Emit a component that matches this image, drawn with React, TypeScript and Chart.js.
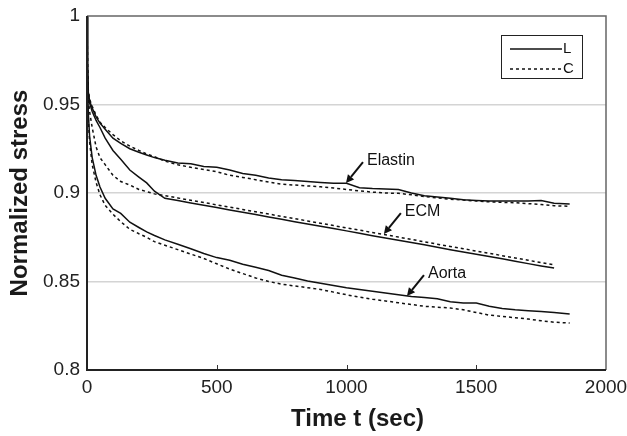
import React, { useEffect, useRef } from "react";
import { Chart, registerables } from "chart.js";

Chart.register(...registerables);

// ---- data ----
const times = [0, 2, 5, 10, 20, 35, 50, 70, 100, 130, 165, 200, 230, 260, 300, 350, 400, 450, 500, 550, 600, 650, 700, 750, 800, 850, 900, 950, 1000, 1050, 1100, 1150, 1200, 1250, 1300, 1350, 1400, 1450, 1500, 1550, 1600, 1650, 1700, 1750, 1800, 1860];

const elastinL = [1.0, 0.972, 0.957, 0.952, 0.948, 0.943, 0.9395, 0.936, 0.931, 0.928, 0.925, 0.923, 0.9215, 0.92, 0.9185, 0.917, 0.9165, 0.915, 0.9145, 0.913, 0.911, 0.91, 0.9085, 0.9075, 0.907, 0.9065, 0.906, 0.9055, 0.9055, 0.903, 0.9025, 0.9023, 0.902, 0.9, 0.8985, 0.8978, 0.897, 0.8962, 0.8958, 0.8955, 0.8955, 0.8955, 0.8955, 0.8958, 0.8942, 0.8938];
const elastinC = [1.0, 0.972, 0.958, 0.953, 0.949, 0.944, 0.94, 0.937, 0.933, 0.9295, 0.9265, 0.924, 0.922, 0.9205, 0.918, 0.916, 0.9145, 0.9133, 0.912, 0.91, 0.9088, 0.9075, 0.9062, 0.905, 0.9045, 0.904, 0.9035, 0.9028, 0.902, 0.9012, 0.9005, 0.9, 0.8998, 0.899, 0.898, 0.8972, 0.8965, 0.896, 0.8955, 0.895, 0.8947, 0.8945, 0.894, 0.8935, 0.8928, 0.8925];
const ecmL = [1.0, 0.972, 0.956, 0.951, 0.946, 0.941, 0.937, 0.931, 0.924, 0.919, 0.913, 0.909, 0.9057, 0.901, 0.897, 0.8957, 0.8944, 0.8931, 0.8918, 0.8904, 0.8891, 0.8878, 0.8865, 0.8852, 0.8838, 0.8825, 0.8812, 0.8799, 0.8786, 0.8773, 0.8759, 0.8746, 0.8733, 0.872, 0.8707, 0.8694, 0.868, 0.8667, 0.8654, 0.8641, 0.8628, 0.8615, 0.8601, 0.8588, 0.8576, null];
const ecmC = [1.0, 0.97, 0.953, 0.946, 0.937, 0.926, 0.92, 0.916, 0.91, 0.9065, 0.9045, 0.902, 0.9008, 0.8995, 0.8985, 0.8972, 0.8959, 0.8946, 0.8933, 0.892, 0.8907, 0.8894, 0.8881, 0.8868, 0.8855, 0.8842, 0.8829, 0.8816, 0.8803, 0.879, 0.8777, 0.8764, 0.8751, 0.8738, 0.8724, 0.8711, 0.8698, 0.8685, 0.8672, 0.8659, 0.8646, 0.8633, 0.862, 0.8607, 0.8594, null];
const aortaL = [1.0, 0.965, 0.945, 0.932, 0.92, 0.91, 0.9034, 0.897, 0.891, 0.8885, 0.8835, 0.8805, 0.878, 0.876, 0.8735, 0.871, 0.8685, 0.8658, 0.8635, 0.862, 0.8598, 0.858, 0.8562, 0.8535, 0.852, 0.8503, 0.849, 0.8478, 0.8465, 0.8455, 0.8445, 0.8435, 0.8425, 0.8415, 0.841, 0.8402, 0.8385, 0.8378, 0.8378, 0.836, 0.8348, 0.834, 0.8335, 0.833, 0.8325, 0.8316];
const aortaC = [1.0, 0.962, 0.942, 0.929, 0.916, 0.906, 0.899, 0.893, 0.888, 0.8838, 0.8795, 0.877, 0.875, 0.8725, 0.8705, 0.868, 0.8655, 0.863, 0.86, 0.857, 0.8545, 0.852, 0.85, 0.8485, 0.8475, 0.8465, 0.8455, 0.844, 0.8425, 0.8412, 0.84, 0.839, 0.838, 0.837, 0.836, 0.8355, 0.835, 0.834, 0.8325, 0.831, 0.8303, 0.8295, 0.8288, 0.8278, 0.827, 0.8265];

const xTicks = [0, 500, 1000, 1500, 2000];
const yTicks = [0.8, 0.85, 0.9, 0.95, 1];

const legendLabels = ["L", "C"];
const annotationLabels = ["Elastin", "ECM", "Aorta"];
const annotationT = [998, 1144, 1233];
const annotationV = [0.9056, 0.8768, 0.8418];

const FONT = "'Liberation Sans', Arial, Helvetica, sans-serif";

function pts(arr: (number | null)[]) {
  return times.map((t, i) => ({ x: t, y: arr[i] }));
}

const framePlugin = {
  id: "frame",
  afterDraw(chart: any) {
    const { ctx, chartArea } = chart;
    const { left, right, top, bottom } = chartArea;
    const xs = chart.scales.x;
    ctx.save();
    // inner x ticks
    ctx.strokeStyle = "#333";
    ctx.lineWidth = 1;
    xTicks.slice(1, -1).forEach((v) => {
      const px = Math.round(xs.getPixelForValue(v)) + 0.5;
      ctx.beginPath();
      ctx.moveTo(px, bottom);
      ctx.lineTo(px, bottom - 5);
      ctx.stroke();
    });
    // frame
    ctx.strokeStyle = "#666";
    ctx.lineWidth = 1.5;
    ctx.beginPath();
    ctx.moveTo(left, top);
    ctx.lineTo(right, top);
    ctx.lineTo(right, bottom);
    ctx.stroke();
    ctx.strokeStyle = "#222";
    ctx.lineWidth = 2;
    ctx.beginPath();
    ctx.moveTo(left, top);
    ctx.lineTo(left, bottom);
    ctx.lineTo(right, bottom);
    ctx.stroke();

    // x title
    ctx.fillStyle = "#1a1a1a";
    ctx.font = `bold 24px ${FONT}`;
    ctx.textAlign = "center";
    ctx.textBaseline = "alphabetic";
    ctx.fillText("Time t (sec)", (left + right) / 2 + 11, 426);

    // legend
    const lx = right - 105;
    const ly = top + 19;
    ctx.strokeStyle = "#222";
    ctx.lineWidth = 1;
    ctx.strokeRect(lx + 0.5, ly + 0.5, 81, 43);
    ctx.font = `15px ${FONT}`;
    ctx.textAlign = "left";
    ctx.textBaseline = "middle";
    legendLabels.forEach((lab, i) => {
      const y = ly + 14 + i * 20;
      ctx.strokeStyle = "#111";
      ctx.lineWidth = 1.5;
      ctx.setLineDash(i === 0 ? [] : [3, 3]);
      ctx.beginPath();
      ctx.moveTo(lx + 9, y);
      ctx.lineTo(lx + 61, y);
      ctx.stroke();
      ctx.setLineDash([]);
      ctx.fillStyle = "#111";
      ctx.fillText(lab, lx + 62, y);
    });

    // annotations
    const ys = chart.scales.y;
    annotationLabels.forEach((lab, i) => {
      const tx = xs.getPixelForValue(annotationT[i]);
      const ty = ys.getPixelForValue(annotationV[i]);
      const sx = tx + 17;
      const sy = ty - 21;
      const ang = Math.atan2(ty - sy, tx - sx);
      const hl = 8;
      const hw = 4;
      const bx = tx - hl * Math.cos(ang);
      const by = ty - hl * Math.sin(ang);
      ctx.strokeStyle = "#111";
      ctx.lineWidth = 2;
      ctx.beginPath();
      ctx.moveTo(sx, sy);
      ctx.lineTo(bx, by);
      ctx.stroke();
      ctx.fillStyle = "#111";
      ctx.beginPath();
      ctx.moveTo(tx, ty);
      ctx.lineTo(bx + hw * Math.sin(ang), by - hw * Math.cos(ang));
      ctx.lineTo(bx - hw * Math.sin(ang), by + hw * Math.cos(ang));
      ctx.closePath();
      ctx.fill();
      ctx.font = `16px ${FONT}`;
      ctx.textAlign = "left";
      ctx.textBaseline = "middle";
      ctx.fillText(lab, sx + 4, sy - 1);
    });
    ctx.restore();
  },
};

export default function App() {
  const ref = useRef<HTMLCanvasElement | null>(null);
  useEffect(() => {
    if (!ref.current) return;
    const solid = { borderColor: "#111", borderWidth: 1.5, pointRadius: 0, fill: false, tension: 0, spanGaps: false };
    const dashed = { ...solid, borderDash: [3, 3] };
    const chart = new Chart(ref.current, {
      type: "line",
      data: {
        datasets: [
          { label: "Elastin L", data: pts(elastinL), ...solid },
          { label: "Elastin C", data: pts(elastinC), ...dashed },
          { label: "ECM L", data: pts(ecmL), ...solid },
          { label: "ECM C", data: pts(ecmC), ...dashed },
          { label: "Aorta L", data: pts(aortaL), ...solid },
          { label: "Aorta C", data: pts(aortaC), ...dashed },
        ] as any,
      },
      options: {
        animation: false,
        responsive: false,
        maintainAspectRatio: false,
        layout: { padding: { top: 16, right: 21, left: 0, bottom: 0 } },
        plugins: { legend: { display: false }, tooltip: { enabled: false } },
        scales: {
          x: {
            type: "linear",
            min: 0,
            max: 2000,
            afterFit: (s: any) => { s.height = 66; s.paddingRight = 0; s.paddingLeft = 0; },
            afterBuildTicks: (s: any) => { s.ticks = xTicks.map((v) => ({ value: v })); },
            grid: { display: false, drawTicks: false },
            border: { display: false },
            ticks: {
              padding: 6,
              color: "#222",
              font: { family: FONT, size: 19 },
              maxRotation: 0,
              callback: (v: any) => String(v),
            },
          },
          y: {
            type: "linear",
            min: 0.8,
            max: 1,
            afterFit: (s: any) => { s.width = 87; s.paddingTop = 0; s.paddingBottom = 0; },
            afterBuildTicks: (s: any) => { s.ticks = yTicks.map((v) => ({ value: v })); },
            grid: {
              drawTicks: false,
              lineWidth: 1.5,
              color: (c: any) => (c.tick && (c.tick.value <= 0.8001 || c.tick.value >= 0.9999) ? "rgba(0,0,0,0)" : "#d4d4d4"),
            },
            border: { display: false },
            ticks: {
              padding: 7,
              color: "#222",
              font: { family: FONT, size: 19 },
              callback: (v: any) => String(Number(Number(v).toFixed(2))),
            },
            title: {
              display: true,
              text: "Normalized stress",
              color: "#1a1a1a",
              font: { family: FONT, size: 24, weight: "bold" },
              padding: { top: 6, bottom: 0 },
            },
          },
        },
      } as any,
      plugins: [framePlugin],
    });
    return () => chart.destroy();
  }, []);
  return (
    <div style={{ position: "fixed", left: 0, top: 0, width: 627, height: 436, background: "#fff" }}>
      <canvas ref={ref} width={627} height={436} style={{ display: "block" }} />
    </div>
  );
}
